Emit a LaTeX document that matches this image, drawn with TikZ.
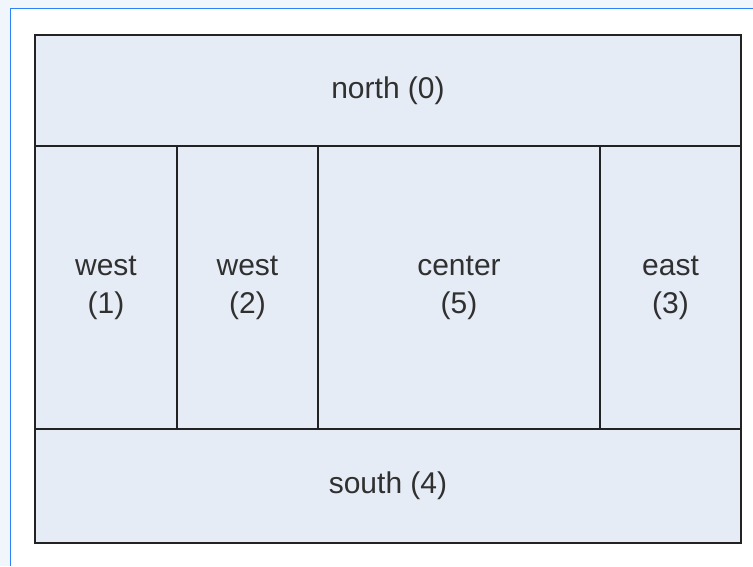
\documentclass[tikz,border=0pt]{standalone}
\usepackage{fontspec}
\setmainfont{Liberation Sans}
\usetikzlibrary{positioning}
\definecolor{panefill}{RGB}{230,236,246}
\definecolor{paneline}{RGB}{34,34,34}
\definecolor{panetext}{RGB}{48,48,48}
\definecolor{framblue}{RGB}{45,130,250}
\definecolor{tint}{RGB}{240,246,252}
\tikzset{
  region/.style = {rectangle, draw=paneline, line width=2pt, fill=panefill, outer sep=0pt, inner sep=0pt,
                   align=center, text=panetext, font=\fontsize{30}{38}\selectfont},
  frame/.style  = {draw=framblue, line width=1.5pt}
}
\begin{document}
\begin{tikzpicture}[x=1pt, y=-1pt]
\useasboundingbox (0,0) rectangle (753,566);
\fill[tint] (0,0) rectangle (753,566);
\fill[white] (10.5,8.5) rectangle (753,566);
\draw[frame] (10.5,566) -- (10.5,8.5) -- (753,8.5);

% top row
\node[region, minimum width=706pt, minimum height=111pt, anchor=north west] (north) at (35,35) {north (0)};

% middle row
\node[region, minimum width=142pt, minimum height=283pt, anchor=north west] (west1) at (north.south west) {west\\(1)};
\node[region, minimum width=141pt, minimum height=283pt, right=0pt of west1] (west2) {west\\(2)};
\node[region, minimum width=282pt, minimum height=283pt, right=0pt of west2] (center) {center\\(5)};
\node[region, minimum width=141pt, minimum height=283pt, right=0pt of center] (east) {east\\(3)};

% bottom row
\node[region, minimum width=706pt, minimum height=114pt, anchor=north west] (south) at (west1.south west) {south (4)};

\end{tikzpicture}
\end{document}
